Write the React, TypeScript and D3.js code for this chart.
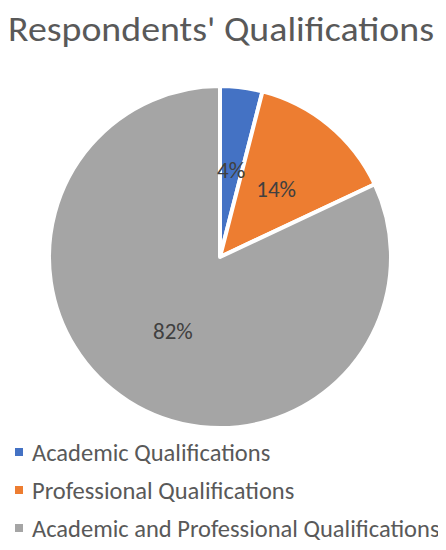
import React, { useEffect, useRef } from 'react';
import * as d3 from 'd3';

const categories = ['Academic Qualifications', 'Professional Qualifications', 'Academic and Professional Qualifications'];
const values = [4, 14, 82];
const colors = ['#4472C4', '#ED7D31', '#A5A5A5'];

const PieChart = () => {
  const svgRef = useRef<SVGSVGElement>(null);

  useEffect(() => {
    const svg = d3.select(svgRef.current);
    svg.selectAll('*').remove();

    const width = 446;
    const cx = 220;
    const cy = 257;
    const radius = 171;
    const font = "Calibri, Carlito, 'Open Sans', sans-serif";

    // Title
    svg.append('text')
      .attr('x', width / 2 - 2)
      .attr('y', 41)
      .attr('text-anchor', 'middle')
      .attr('textLength', 426)
      .attr('lengthAdjust', 'spacingAndGlyphs')
      .style('font-family', font)
      .style('font-size', '35px')
      .style('fill', '#595959')
      .text("Respondents' Qualifications");

    const pie = d3.pie<number>().sort(null).value(d => d);
    const arcs = pie(values);

    const arc = d3.arc<d3.PieArcDatum<number>>()
      .innerRadius(0)
      .outerRadius(radius);

    const labelArc = d3.arc<d3.PieArcDatum<number>>()
      .innerRadius(88)
      .outerRadius(88);

    const g = svg.append('g')
      .attr('transform', `translate(${cx},${cy})`);

    g.selectAll('path')
      .data(arcs)
      .enter()
      .append('path')
      .attr('d', arc)
      .attr('fill', (d, i) => colors[i])
      .attr('stroke', '#ffffff')
      .attr('stroke-width', 4)
      .attr('stroke-linejoin', 'round');

    g.selectAll('.label')
      .data(arcs)
      .enter()
      .append('text')
      .attr('class', 'label')
      .attr('transform', d => `translate(${labelArc.centroid(d)})`)
      .attr('text-anchor', 'middle')
      .attr('dy', '0.35em')
      .style('font-family', font)
      .style('font-size', '23px')
      .style('fill', '#404040')
      .text(d => `${d.data}%`);

    // Legend
    const legend = svg.append('g')
      .attr('transform', 'translate(15, 452)');

    categories.forEach((c, i) => {
      legend.append('rect')
        .attr('x', 0)
        .attr('y', i * 38 - 4)
        .attr('width', 8)
        .attr('height', 8)
        .attr('fill', colors[i]);

      legend.append('text')
        .attr('x', 17)
        .attr('y', i * 38)
        .attr('dy', '0.35em')
        .style('font-family', font)
        .style('font-size', '24.5px')
        .style('fill', '#595959')
        .text(c);
    });
  }, []);

  return (
    <svg
      ref={svgRef}
      width={446}
      height={550}
      style={{ display: 'block', background: '#ffffff' }}
    />
  );
};

export default function App() {
  return (
    <div style={{ margin: -8 }}>
      <PieChart />
    </div>
  );
}
